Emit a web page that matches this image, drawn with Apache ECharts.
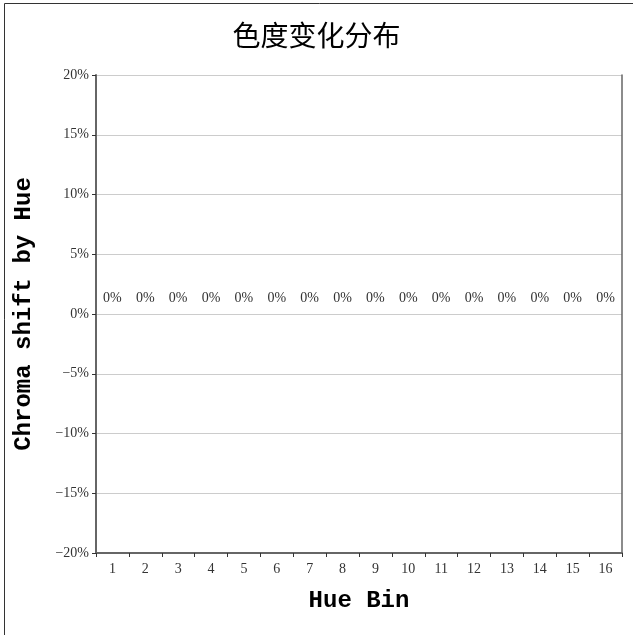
<!DOCTYPE html>
<html><head><meta charset="utf-8">
<script src="https://cdn.jsdelivr.net/npm/echarts@6/dist/echarts.min.js"></script>
<style>html,body{margin:0;padding:0;background:#fff}#c{width:633px;height:635px}</style>
</head><body><div id="c"></div>
<script>
const categories = ['1','2','3','4','5','6','7','8','9','10','11','12','13','14','15','16'];
const chromaShift = [0,0,0,0,0,0,0,0,0,0,0,0,0,0,0,0];
const yTicks = [-20,-15,-10,-5,0,5,10,15,20];
const titleText = '色度变化分布';
const xName = 'Hue Bin';
const yName = 'Chroma shift by Hue';

const serif = '"Liberation Serif", "DejaVu Serif", serif';
const mono = '"Liberation Mono", "DejaVu Sans Mono", monospace';
const fmtPct = v => (v < 0 ? '\u2212' : '') + Math.abs(v) + '%';

const chart = echarts.init(document.getElementById('c'));
chart.setOption({
  animation: false,
  backgroundColor: '#fff',
  graphic: [{type:'rect', shape:{x:4.5,y:3.5,width:800,height:800}, style:{fill:'none', stroke:'#333', lineWidth:1}, silent:true}],
  title: {text: titleText, left: 'center', top: 16, textStyle:{fontFamily:'"Noto Sans CJK SC"', fontSize:28, fontWeight:'normal', color:'#000'}},
  grid: {left:96, right:11, top:75, bottom:82, containLabel:false},
  xAxis: {
    type:'category', data: categories,
    name: xName, nameLocation:'middle', nameGap:36,
    nameTextStyle:{fontFamily:mono, fontSize:24, fontWeight:'bold', color:'#000'},
    axisLine:{onZero:false, lineStyle:{color:'#666', width:2}},
    axisTick:{show:true, alignWithLabel:false, length:4, lineStyle:{color:'#333'}},
    axisLabel:{fontFamily:serif, fontSize:14, color:'#333', margin:9}
  },
  yAxis: [{
    type:'value', min: yTicks[0], max: yTicks[yTicks.length-1], interval:5,
    name: yName, nameLocation:'middle', nameGap:60,
    nameTextStyle:{fontFamily:mono, fontSize:24, fontWeight:'bold', color:'#000'},
    axisLine:{show:true, lineStyle:{color:'#666', width:2}},
    axisTick:{show:true, length:4, lineStyle:{color:'#333'}},
    axisLabel:{fontFamily:serif, fontSize:14, color:'#333', margin:7, formatter: fmtPct},
    splitLine:{lineStyle:{color:'#ccc'}}
  },{
    type:'value', position:'right', min: yTicks[0], max: yTicks[yTicks.length-1], interval:5,
    axisLine:{show:true, lineStyle:{color:'#666', width:1.5}},
    axisTick:{show:false}, axisLabel:{show:false}, splitLine:{show:false}
  }],
  series: [{
    type:'bar', data: chromaShift, barWidth:'60%',
    itemStyle:{color:'#4472c4'},
    label:{show:true, position:'top', distance:9, fontFamily:serif, fontSize:14, color:'#333', formatter: p => p.value + '%'}
  }]
});
</script></body></html>
